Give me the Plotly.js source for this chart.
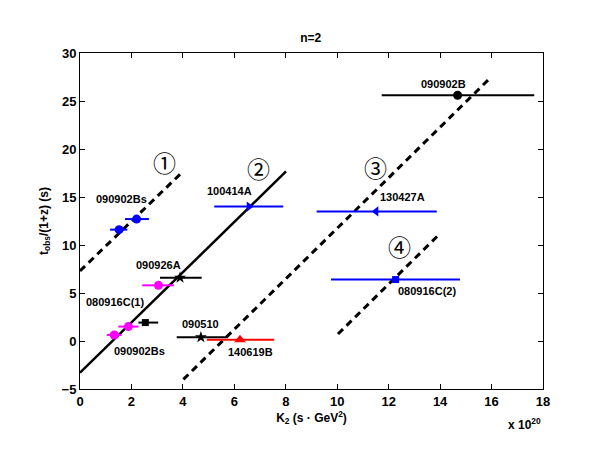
<!DOCTYPE html>
<html>
<head>
<meta charset="utf-8">
<script src="https://cdn.plot.ly/plotly-3.0.1.min.js"></script>
<style>html,body{margin:0;padding:0;background:#fff;}#chart{width:600px;height:455px;}</style>
</head>
<body>
<div id="chart"></div>
<script>
// ---- data (K2 in units of 1e20 s·GeV^2, t in s) ----
// blue circles (090902Bs, upper)
const blueCircK = [1.52, 2.20];
const blueCircT = [11.6, 12.7];
const blueCircLo = [1.17, 1.75];
const blueCircHi = [1.84, 2.68];
// magenta circles
const magK = [1.33, 1.88, 3.05];
const magT = [0.63, 1.50, 5.80];
const magLo = [1.04, 1.49, 2.42];
const magHi = [1.62, 2.27, 3.65];
// black stars (090926A, 090510)
const starK = [3.89, 4.70];
const starT = [6.60, 0.39];
const starLo = [3.11, 3.76];
const starHi = [4.73, 5.70];
// black square
const sqK = [2.54];
const sqT = [1.92];
const sqLo = [2.27];
const sqHi = [3.04];
// black circle (090902B)
const bcK = [14.68];
const bcT = [25.6];
const bcLo = [11.73];
const bcHi = [17.66];
// blue right triangle (100414A)
const rtK = [6.57];
const rtT = [14.0];
const rtLo = [5.22];
const rtHi = [7.90];
// blue left triangle (130427A)
const ltK = [11.51];
const ltT = [13.5];
const ltLo = [9.20];
const ltHi = [13.87];
// blue square (080916C(2))
const bsK = [12.27];
const bsT = [6.40];
const bsLo = [9.76];
const bsHi = [14.77];
// red triangle (140619B)
const redK = [6.22];
const redT = [0.14];
const redLo = [4.93];
const redHi = [7.55];

// fitted lines (endpoints)
const line1X = [0, 4.02],   line1Y = [7.3, 17.7];
const line2X = [0, 8.01],   line2Y = [-3.3, 17.66];
const line3X = [4.02, 15.91], line3Y = [-4.0, 27.3];
const line4X = [10.03, 14.0], line4Y = [0.73, 11.2];

// labels
const labelText = ['090902Bs', '100414A', '090926A', '080916C(1)', '090902Bs', '090510', '140619B', '090902B', '130427A', '080916C(2)'];
const labelX = [1.62, 5.81, 3.05, 1.36, 2.33, 4.67, 6.61, 14.15, 12.55, 13.48];
const labelY = [14.76, 15.67, 7.87, 4.02, -1.05, 1.75, -1.12, 26.76, 14.97, 5.25];
const circText = ['①', '②', '③', '④'];
const circX = [3.3, 6.93, 11.47, 12.44];
const circY = [18.6, 18.0, 18.1, 9.86];

const xTicks = [0, 2, 4, 6, 8, 10, 12, 14, 16, 18];
const yTicks = [-5, 0, 5, 10, 15, 20, 25, 30];

// ---- build ----
const FONT = 'Liberation Sans, Arial, Helvetica, sans-serif';
function errTrace(K, T, lo, hi, color, symbol, size) {
  return {
    type: 'scatter', mode: 'markers', x: K, y: T,
    marker: {color: color, symbol: symbol, size: size, line: {width: 0}},
    error_x: {type: 'data', symmetric: false,
      array: hi.map((h, i) => h - K[i]),
      arrayminus: lo.map((l, i) => K[i] - l),
      color: color, thickness: 2, width: 0},
    showlegend: false, hoverinfo: 'x+y'
  };
}
function lineTrace(x, y, dash) {
  return {type: 'scatter', mode: 'lines', x: x, y: y,
    line: {color: 'black', width: dash ? 3 : 2.5, dash: dash ? '7px,5px' : 'solid'},
    showlegend: false, hoverinfo: 'skip'};
}

const data = [
  lineTrace(line1X, line1Y, true),
  lineTrace(line2X, line2Y, false),
  lineTrace(line3X, line3Y, true),
  lineTrace(line4X, line4Y, true),
  errTrace(blueCircK, blueCircT, blueCircLo, blueCircHi, '#0000ff', 'circle', 9),
  errTrace(magK, magT, magLo, magHi, '#ff00ff', 'circle', 9),
  errTrace(starK, starT, starLo, starHi, '#000000', 'star', 9),
  errTrace(sqK, sqT, sqLo, sqHi, '#000000', 'square', 7),
  errTrace(bcK, bcT, bcLo, bcHi, '#000000', 'circle', 9),
  errTrace(rtK, rtT, rtLo, rtHi, '#0000ff', 'triangle-right', 9),
  errTrace(ltK, ltT, ltLo, ltHi, '#0000ff', 'triangle-left', 9),
  errTrace(bsK, bsT, bsLo, bsHi, '#0000ff', 'square', 7),
  errTrace(redK, redT, redLo, redHi, '#ff0000', 'triangle-up', 10)
];

const annotations = [];
labelText.forEach((t, i) => annotations.push({
  x: labelX[i], y: labelY[i], xref: 'x', yref: 'y', text: '<b>' + t + '</b>',
  showarrow: false, font: {family: FONT, size: 11, color: 'black'}
}));
circText.forEach((t, i) => annotations.push({
  x: circX[i], y: circY[i], xref: 'x', yref: 'y', text: t,
  showarrow: false, font: {family: 'Noto Sans CJK JP, DejaVu Sans, sans-serif', size: 23, color: 'black'}
}));
annotations.push({
  x: 1, y: -0.104, xref: 'paper', yref: 'paper', xanchor: 'right', yanchor: 'middle',
  text: '<b>x 10<sup>20</sup></b>', showarrow: false,
  font: {family: FONT, size: 12, color: 'black'}
});

const axisCommon = {
  showline: true, linecolor: 'black', linewidth: 1, mirror: 'ticks',
  ticks: 'inside', ticklen: 5, tickcolor: 'black', tickwidth: 1,
  showgrid: false, zeroline: false,
  tickfont: {family: FONT, size: 13, color: 'black', weight: 'bold'}
};

const layout = {
  width: 600, height: 455,
  margin: {l: 80, r: 57, t: 53, b: 66},
  paper_bgcolor: 'white', plot_bgcolor: 'white',
  title: {text: '<b>n=2</b>', x: 0.518, xanchor: 'center', y: 1 - 38/455, yanchor: 'middle', yref: 'container',
    font: {family: FONT, size: 12, color: 'black'}},
  xaxis: Object.assign({}, axisCommon, {
    range: [0, 18], tickvals: xTicks, ticktext: xTicks.map(String),
    title: {text: '<b>K<sub>2</sub> (s · GeV<sup>2</sup>)</b>', standoff: 4,
      font: {family: FONT, size: 12, color: 'black'}}
  }),
  yaxis: Object.assign({}, axisCommon, {
    range: [-5, 30], tickvals: yTicks, ticktext: yTicks.map(v => v < 0 ? '\u2212' + Math.abs(v) : String(v)),
    title: {text: '<b>t<sub>obs</sub>/(1+z) (s)</b>', standoff: 10,
      font: {family: FONT, size: 12, color: 'black'}}
  }),
  annotations: annotations
};

Plotly.newPlot('chart', data, layout, {staticPlot: true, displayModeBar: false});
</script>
</body>
</html>
